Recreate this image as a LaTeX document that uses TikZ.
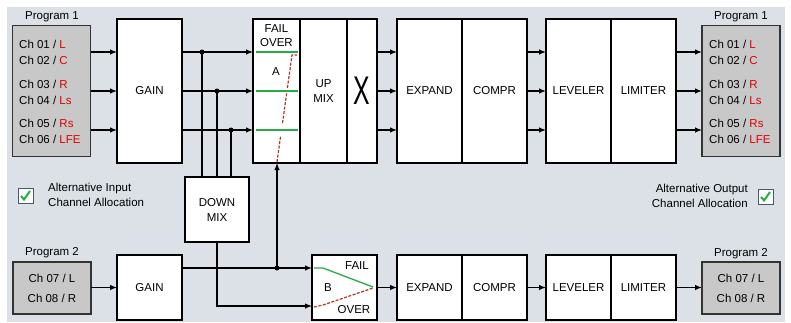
\documentclass[tikz,border=0pt]{standalone}
\usepackage{fontspec}
\setmainfont{Liberation Sans}
\usetikzlibrary{arrows.meta}

\definecolor{panel}{RGB}{220,225,232}
\definecolor{progfill}{RGB}{200,200,200}
\definecolor{chred}{RGB}{225,0,0}
\definecolor{failgreen}{RGB}{40,170,70}
\definecolor{overred}{RGB}{180,50,40}
\definecolor{boxedge}{RGB}{70,90,110}

\begin{document}
\begin{tikzpicture}[x=1pt,y=-1pt,
  font=\fontsize{11.5}{15}\selectfont,
  blk/.style={draw, fill=white, line width=1.4pt, anchor=north west, inner sep=0pt,
    outer sep=0pt, minimum width=65pt, minimum height=144pt, align=center},
  prog/.style={draw=black!80, fill=progfill, line width=1.4pt, anchor=north west,
    inner sep=0pt, outer sep=0pt, minimum width=78pt, align=center},
  arr/.style={line width=1.2pt, -{Latex[length=7pt,width=5.5pt]}},
  wire/.style={line width=1.2pt},
  dot/.style={circle, fill, inner sep=0pt, minimum size=5pt},
  chtxt/.style={anchor=west, inner sep=0pt},
  cbox/.style={draw=boxedge, fill=white, line width=1pt, minimum size=15pt, inner sep=0pt},
  tick/.style={draw=failgreen, line width=2pt},
  fogreen/.style={failgreen, line width=1.3pt},
  fored/.style={overred, line width=1.2pt, dash pattern=on 3pt off 1.5pt},
]
\useasboundingbox (0,0) rectangle (791,322);
\fill[panel] (7,7) rectangle (785,322);

% rows of the signal lines
\coordinate (r1) at (0,52);
\coordinate (r2) at (0,91);
\coordinate (r3) at (0,130);
\coordinate (r4) at (0,287.5);
\coordinate (r5) at (0,268);
\coordinate (r6) at (0,306);

% program 1 path
\node[prog, minimum height=131pt] (pin1) at (12.5,25.5) {};
\node (lblin1) at (52,17) {Program 1};
\node[blk] (gain1) at (117,19) {GAIN};
\node[blk, minimum width=47pt] (faila) at (253,19) {};
\node[blk, minimum width=47pt] (upmix) at (300,19) {UP\\MIX};
\node[blk, minimum width=30pt] (xbox) at (347,19) {};
\node[blk] (expand1) at (397,19) {EXPAND};
\node[blk] (compr1) at (462,19) {COMPR};
\node[blk] (level1) at (546,19) {LEVELER};
\node[blk] (limit1) at (611,19) {LIMITER};
\node[prog, minimum height=131pt] (pout1) at (702,25.5) {};
\node (lblout1) at (741,17) {Program 1};

\foreach \y/\n/\c [count=\i] in {44/01/L,60/02/C,84/03/R,100/04/Ls,123/05/Rs,139/06/LFE}{
  \node[chtxt] (inch\i) at (19,\y) {Ch \n\ / \textcolor{chred}{\c}};
  \node[chtxt] (outch\i) at (709,\y) {Ch \n\ / \textcolor{chred}{\c}};
}

% crossover glyph
\node (xsym) at (xbox.center) {\fontsize{40}{40}\selectfont\scalebox{0.62}[1]{X}};

% fail over A
\node[align=center, font=\fontsize{11.5}{14}\selectfont] (fatxt) at (276.5,36) {FAIL\\OVER};
\node (falbl) at (276,72) {A};
\foreach \r in {r1,r2,r3}
  \draw[fogreen] (256,0 |- \r) -- (298,0 |- \r);
\draw[fored] (277,162) -- (280.6,136);
\draw[fored] (282.5,123) -- (286.7,93);
\draw[fored] (287.4,88) -- (292,55) -- (297,55);

% down mix
\node[blk, minimum width=64pt, minimum height=65pt] (dmix) at (185,177) {DOWN\\MIX};

% program 2 path
\node[prog, minimum height=52pt, font=\fontsize{11.5}{20}\selectfont] (pin2) at (13,262) {Ch 07 / L\\Ch 08 / R};
\node (lblin2) at (52,253) {Program 2};
\node[blk, minimum height=65pt] (gain2) at (117,255) {GAIN};
\node[blk, minimum height=65pt] (failb) at (312,255) {};
\node[blk, minimum height=65pt] (expand2) at (397,255) {EXPAND};
\node[blk, minimum height=65pt] (compr2) at (462,255) {COMPR};
\node[blk, minimum height=65pt] (level2) at (546,255) {LEVELER};
\node[blk, minimum height=65pt] (limit2) at (611,255) {LIMITER};
\node[prog, minimum height=52pt, font=\fontsize{11.5}{20}\selectfont] (pout2) at (702,262) {Ch 07 / L\\Ch 08 / R};
\node (lblout2) at (741,254) {Program 2};

% fail over B
\node (fbfail) at (357,266) {FAIL};
\node (fbover) at (354,310) {OVER};
\node (fblbl) at (328,288) {B};
\draw[fogreen] (314,268) -- (323,268) -- (373,287);
\draw[fored] (314,307) -- (323,305) -- (373,288);

% connections, program 1
\foreach \r in {r1,r2,r3}{
  \draw[arr] (pin1.east |- \r) -- (gain1.west |- \r);
  \draw[arr] (gain1.east |- \r) -- (faila.west |- \r);
  \draw[arr] (xbox.east |- \r) -- (expand1.west |- \r);
  \draw[arr] (compr1.east |- \r) -- (level1.west |- \r);
  \draw[arr] (limit1.east |- \r) -- (pout1.west |- \r);
}
\coordinate (j1) at (202,52);
\coordinate (j2) at (217,91);
\coordinate (j3) at (231,130);
\foreach \j in {j1,j2,j3}{
  \node[dot] at (\j) {};
  \draw[wire] (\j) -- (\j |- dmix.north);
}

% connections, program 2
\draw[arr] (pin2.east |- r4) -- (gain2.west |- r4);
\coordinate (j4) at (277,268);
\draw[arr] (gain2.east |- r5) -- (failb.west |- r5);
\node[dot] at (j4) {};
\draw[arr] (j4) -- (j4 |- faila.south);
\draw[arr] (dmix.south) -- (dmix.south |- r6) -- (failb.west |- r6);
\draw[arr] (failb.east |- r4) -- (expand2.west |- r4);
\draw[arr] (compr2.east |- r4) -- (level2.west |- r4);
\draw[arr] (limit2.east |- r4) -- (pout2.west |- r4);

% alternative allocation switches
\node[cbox] (cbin) at (25.5,195.5) {};
\draw[tick] ([shift={(-4.5,0.5)}]cbin.center) -- ++(3,3.5) -- ++(6,-8.5);
\node[anchor=west, align=left, inner sep=0pt] (altin) at (48,194.5) {Alternative Input\\Channel Allocation};
\node[cbox] (cbout) at (765.5,196.5) {};
\draw[tick] ([shift={(-4.5,0.5)}]cbout.center) -- ++(3,3.5) -- ++(6,-8.5);
\node[anchor=east, align=right, inner sep=0pt] (altout) at (748,195.5) {Alternative Output\\Channel Allocation};
\end{tikzpicture}
\end{document}
